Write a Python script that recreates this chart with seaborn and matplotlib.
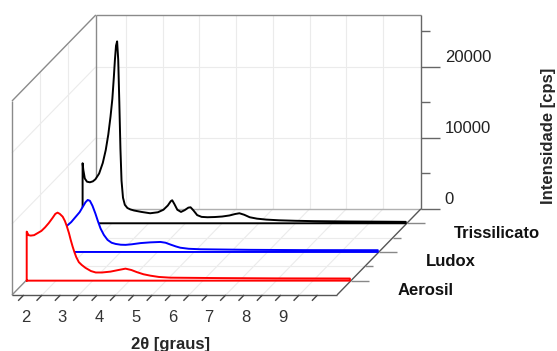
import numpy as np
import pandas as pd
import seaborn as sns
from matplotlib import pyplot as plt

# amostras, de tras para frente no grafico
amostras = ['Trissilicato', 'Ludox', 'Aerosil']
cores = ['black', 'blue', 'red']
niveis = [3, 2, 1]

theta_tris = [1.70, 1.72, 1.76, 1.82, 1.90, 1.98, 2.05, 2.15, 2.25, 2.33, 2.40, 2.46, 2.51,
              2.55, 2.58, 2.61, 2.64, 2.67, 2.70, 2.73, 2.76, 2.80, 2.85, 2.92, 3.00, 3.10,
              3.30, 3.54, 3.75, 3.90, 4.02, 4.10, 4.14, 4.20, 4.28, 4.38, 4.48, 4.58, 4.64,
              4.72, 4.82, 4.94, 5.10, 5.30, 5.50, 5.70, 5.85, 5.97, 6.10, 6.25, 6.45, 6.70,
              7.05, 7.50, 8.00, 9.00, 10.00, 10.50]
int_tris = [8450, 7500, 6300, 5850, 5770, 5900, 6200, 7000, 8500, 10300, 12500, 15000, 17500,
            20500, 23000, 25000, 25600, 23000, 17000, 10500, 6000, 3600, 2600, 2150, 1950, 1800,
            1600, 1410, 1550, 1900, 2500, 3100, 3240, 2700, 1900, 1600, 1850, 2200, 2250,
            1800, 1150, 900, 850, 880, 950, 1100, 1300, 1410, 1200, 850, 650, 520,
            420, 350, 300, 250, 220, 200]

theta_ludox = [1.70, 1.85, 2.03, 2.15, 2.27, 2.38, 2.46, 2.54, 2.60, 2.66, 2.73, 2.81, 2.88,
               2.95, 3.04, 3.14, 3.25, 3.36, 3.50, 3.63, 3.80, 4.04, 4.30, 4.58, 4.72, 4.85,
               5.00, 5.12, 5.35, 5.67, 7.00, 8.50, 10.50]
int_ludox = [3000, 3300, 3660, 4200, 4930, 5600, 6300, 7000, 7320, 7200, 6500, 5400, 4300,
             3300, 2400, 1700, 1300, 1130, 1020, 1000, 1080, 1250, 1350, 1410, 1300, 1050,
             780, 600, 450, 380, 300, 260, 250]

theta_aerosil = [1.70, 1.75, 1.81, 1.90, 2.00, 2.10, 2.20, 2.30, 2.40, 2.48, 2.54, 2.60, 2.68,
                 2.74, 2.79, 2.85, 2.90, 2.95, 3.00, 3.05, 3.12, 3.20, 3.30, 3.45, 3.58, 3.75,
                 3.98, 4.20, 4.39, 4.55, 4.70, 4.88, 5.07, 5.30, 5.61, 7.00, 8.50, 10.50]
int_aerosil = [6900, 6400, 6340, 6400, 6700, 7000, 7500, 8100, 8800, 9400, 9570, 9400, 9000,
               8400, 7700, 6700, 5700, 4800, 4000, 3300, 2600, 2200, 1800, 1350, 1150, 1150,
               1270, 1500, 1690, 1500, 1200, 900, 700, 520, 420, 360, 320, 300]

z_ticks = [0, 10000, 20000]
z_minor = [5000, 15000, 25000]
x_ticklabs = [2, 3, 4, 5, 6, 7, 8, 9]

dados = {
    'Trissilicato': (theta_tris, int_tris),
    'Ludox': (theta_ludox, int_ludox),
    'Aerosil': (theta_aerosil, int_aerosil),
}

sns.set_style('white')
plt.rcParams['font.family'] = ['Liberation Sans', 'DejaVu Sans']

fig = plt.figure(figsize=(5.57, 3.51), dpi=100)
ax = fig.add_axes([12 / 557, 56 / 351, 325 / 557, 194 / 351])
xmin, xmax = 1.68, 10.53
zmax = 27300
dx, dz = 0.761, 4037   # deslocamento por nivel de profundidade


def proj(t, z, nivel):
    k = np.asarray(nivel, dtype=float) - 0.5
    return np.asarray(t, dtype=float) + k * dx, np.asarray(z, dtype=float) + k * dz


def seg(t0, z0, l0, t1, z1, l1, **kw):
    x, y = proj([t0, t1], [z0, z1], [l0, l1])
    ax.plot(x, y, clip_on=False, solid_capstyle='butt', **kw)


# grade
cg = '#ebebeb'
for t in np.arange(2.5, 10, 1.0):
    seg(t, 0, 3.5, t, zmax, 3.5, color=cg, lw=0.8, zorder=0)
    seg(t, 0, 0.5, t, 0, 3.5, color=cg, lw=0.8, zorder=0)
for z in [10000, 20000]:
    seg(xmin, z, 3.5, xmax, z, 3.5, color=cg, lw=0.8, zorder=0)
    seg(xmin, z, 0.5, xmin, z, 3.5, color=cg, lw=0.8, zorder=0)
for l in [1.5, 2.5]:
    seg(xmin, 0, l, xmin, zmax, l, color=cg, lw=0.8, zorder=0)
    seg(xmin, 0, l, xmax, 0, l, color=cg, lw=0.8, zorder=0)

# caixa
cb = '#8a8a8a'
seg(xmin, zmax, 3.5, xmax, zmax, 3.5, color=cb, lw=1, zorder=1)
seg(xmin, 0, 3.5, xmin, zmax, 3.5, color=cb, lw=1, zorder=1)
seg(xmin, 0, 3.5, xmax, 0, 3.5, color='#b0b0b0', lw=1, zorder=1)
seg(xmin, 0, 0.5, xmin, zmax, 0.5, color=cb, lw=1, zorder=1)
seg(xmin, zmax, 0.5, xmin, zmax, 3.5, color=cb, lw=1, zorder=1)
seg(xmin, 0, 0.5, xmin, 0, 3.5, color=cb, lw=1, zorder=1)
seg(xmax, 0, 0.5, xmax, 0, 3.5, color='#555555', lw=1, zorder=1)
seg(xmin, 0, 0.5, xmax, 0, 0.5, color='#555555', lw=1, zorder=1)
seg(xmax, 0, 3.5, xmax, zmax, 3.5, color='#666666', lw=1, zorder=1)

# curvas (poligonos brancos de tras para frente)
for i, (nome, cor, nivel) in enumerate(zip(amostras, cores, niveis)):
    t, z = dados[nome]
    tt = [t[0]] + list(t) + [t[-1], t[0]]
    zz = [0] + list(z) + [0, 0]
    x, y = proj(tt, zz, nivel)
    ax.fill(x, y, facecolor='white', edgecolor='none', zorder=2 + 2 * i, clip_on=False)
    df = pd.DataFrame({'x': x, 'y': y})
    sns.lineplot(data=df, x='x', y='y', sort=False, estimator=None, color=cor, lw=1.4,
                 ax=ax, zorder=3 + 2 * i)
for line in ax.lines:
    line.set_clip_on(False)

# eixo z
for z in z_ticks:
    seg(xmax, z, 3.5, xmax + 0.52, z, 3.5, color='#666666', lw=1, zorder=1)
    x, y = proj(xmax + 0.65, z + 1270, 3.5)
    ax.text(x, y, str(z), ha='left', va='center', fontsize=12, color='#222222')
for z in z_minor:
    seg(xmax, z, 3.5, xmax + 0.25, z, 3.5, color='#666666', lw=1, zorder=1)

# eixo de profundidade
for nome, nivel in zip(amostras, niveis):
    seg(xmax, 0, nivel, xmax + 0.49, 0, nivel, color='#888888', lw=1, zorder=1)
    x, y = proj(xmax + 1.28, -1408, nivel)
    ax.text(x, y, nome, ha='left', va='center', fontsize=12, fontweight='bold', color='#111111')
for nivel in [1.5, 2.5]:
    seg(xmax, 0, nivel, xmax + 0.22, 0, nivel, color='#888888', lw=1, zorder=1)

# eixo x
for t in np.arange(2, 10.01, 0.5):
    seg(t, 0, 0.5, t, 0, 0.3, color='#444444', lw=1, zorder=1)
for t in x_ticklabs:
    ax.text(t + 0.05, -3100, str(t), ha='center', va='center', fontsize=12, color='#333333')

ax.text(6.0, -6900, '2θ [graus]', ha='center', va='center', fontsize=12, fontweight='bold')
ax.text(16.3, 22390, 'Intensidade [cps]', ha='center', va='center', rotation=90,
        fontsize=12, fontweight='bold')

ax.set_xlim(xmin, xmax)
ax.set_ylim(0, zmax)
ax.axis('off')

fig.savefig('out.png', dpi=100)
